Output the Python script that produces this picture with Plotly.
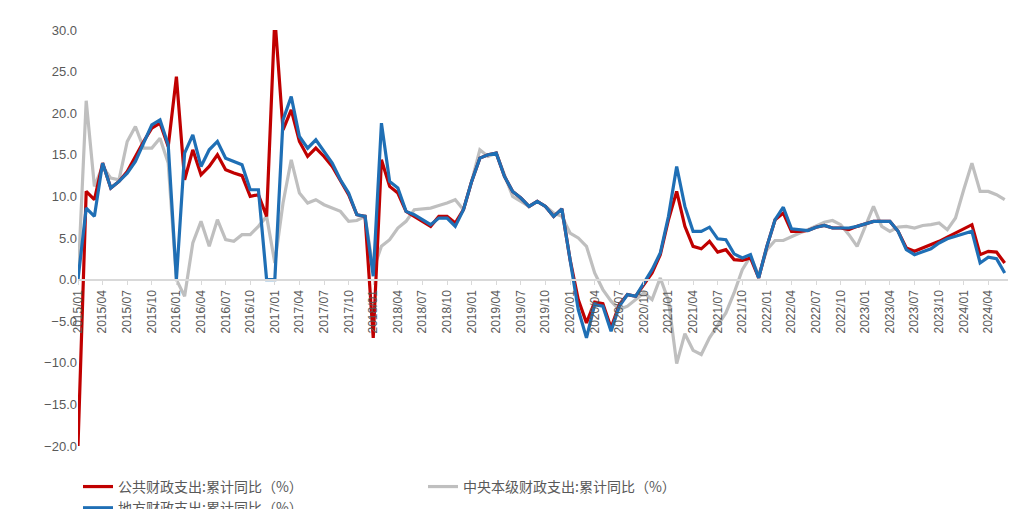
import plotly.graph_objects as go

months = [f"{y}/{m:02d}" for y in range(2015, 2025) for m in range(1, 13)][:114]
tick_labels = months[::3]

local = [0,8.6,7.6,14.0,11.0,11.8,12.8,14.2,16.4,18.6,19.2,16.2,
0,15.2,17.4,13.6,15.6,16.6,14.6,14.2,13.8,10.8,10.8,0,
0,19.2,22.0,17.2,15.8,16.8,15.4,14.0,12.0,10.4,7.8,7.6,
0.4,18.8,11.8,11.0,8.2,7.8,7.2,6.6,7.4,7.4,6.4,8.4,
11.8,14.6,15.0,15.2,12.4,10.6,9.8,8.8,9.4,8.8,7.6,8.5,
2.4,-3.6,-7.0,-3.0,-3.2,-6.2,-3.2,-1.8,-2.0,-0.4,1.2,3.2,
7.6,13.6,8.8,5.8,5.8,6.3,4.9,4.8,3.1,2.6,3.0,0.2,
4.0,7.2,8.7,6.1,6.0,5.9,6.3,6.5,6.2,6.2,6.2,6.4,
6.7,7.0,7.0,7.0,5.8,3.6,3.0,3.3,3.7,4.4,4.9,5.2,
5.5,5.8,2.0,2.7,2.5,0.8]

public = [-20,10.6,9.6,14.0,11.0,11.8,13.0,14.8,16.6,18.2,18.8,16.0,
24.4,12.0,15.6,12.6,13.6,15.0,13.2,12.8,12.5,10.0,10.2,7.6,
31.5,18.0,20.4,16.6,14.8,15.8,14.8,13.6,11.8,10.2,7.8,7.6,
-7.0,14.4,11.2,10.4,8.2,7.6,7.0,6.4,7.6,7.6,6.8,8.4,
11.8,14.6,15.0,15.2,12.4,10.6,9.8,8.8,9.4,8.8,7.6,8.5,
2.4,-2.4,-5.2,-2.7,-2.9,-5.8,-3.0,-1.8,-2.0,-0.6,0.8,3.0,
7.2,10.6,6.4,4.0,3.7,4.6,3.3,3.6,2.4,2.3,2.6,0.2,
4.0,7.2,8.0,5.8,5.8,5.9,6.3,6.5,6.2,6.2,6.0,6.4,
6.7,7.0,7.0,7.0,5.8,3.8,3.4,3.8,4.1,4.6,5.1,5.6,
6.1,6.6,3.0,3.4,3.3,2.0]

central = [0,21.5,11.2,13.6,12.2,12.0,16.6,18.4,15.8,15.8,17.0,14.0,
0,-2.0,4.4,7.0,4.0,7.2,4.8,4.6,5.4,5.4,6.4,7.6,
2.0,9.2,14.4,10.4,9.2,9.6,9.0,8.6,8.2,7.0,7.1,7.6,
1.2,4.0,4.8,6.2,7.0,8.4,8.5,8.6,8.9,9.2,9.6,8.4,
11.8,15.6,14.8,15.2,12.6,10.0,9.4,8.8,9.4,8.8,8.0,7.6,
5.6,5.0,4.0,0.8,-1.2,-2.6,-3.6,-3.2,-2.4,-1.6,-2.4,0.2,
-2.5,-10.1,-6.5,-8.5,-9.0,-7.0,-5.5,-4.0,-1.6,1.2,2.8,0.5,
3.6,4.7,4.7,5.2,5.6,6.0,6.5,6.9,7.1,6.6,5.4,4.0,
6.4,8.8,6.4,5.8,6.3,6.4,6.2,6.5,6.6,6.8,6.0,7.4,
10.8,14.0,10.6,10.6,10.2,9.6]

names = ["公共财政支出:累计同比（%）", "中央本级财政支出:累计同比（%）", "地方财政支出:累计同比（%）"]

fig = go.Figure()
fig.add_trace(go.Scatter(x=months, y=central, name=names[1], mode="lines",
                         line=dict(color="#BFBFBF", width=3.2), legendrank=2))
fig.add_trace(go.Scatter(x=months, y=public, name=names[0], mode="lines",
                         line=dict(color="#C00000", width=3.2), legendrank=1))
fig.add_trace(go.Scatter(x=months, y=local, name=names[2], mode="lines",
                         line=dict(color="#1F6FB5", width=3.2), legendrank=3))

fig.update_layout(
    width=1023, height=509,
    margin=dict(l=70, r=23, t=22, b=71, autoexpand=False),
    plot_bgcolor="white", paper_bgcolor="white",
    font=dict(family="Noto Sans CJK SC, Liberation Sans", color="#595959", size=13),
    legend=dict(orientation="h", x=0.0, y=-0.06, yanchor="top", xanchor="left",
                font=dict(size=14), entrywidth=300, entrywidthmode="pixels"),
    xaxis=dict(type="category", tickmode="array", tickvals=tick_labels, ticktext=tick_labels,
               tickangle=-90, anchor="free", position=0.4, showline=True,
               linecolor="#D9D9D9", linewidth=1.5, ticks="outside", ticklen=5,
               tickcolor="#D9D9D9", showgrid=False, range=[0, 113.4],
               tickfont=dict(size=12, family="Liberation Sans", color="#595959")),
    yaxis=dict(range=[-20, 30], dtick=5, tickformat=".1f", showgrid=False,
               zeroline=False, showline=False,
               tickfont=dict(size=13, family="Liberation Sans", color="#595959")),
)
fig.write_html("out.html")
